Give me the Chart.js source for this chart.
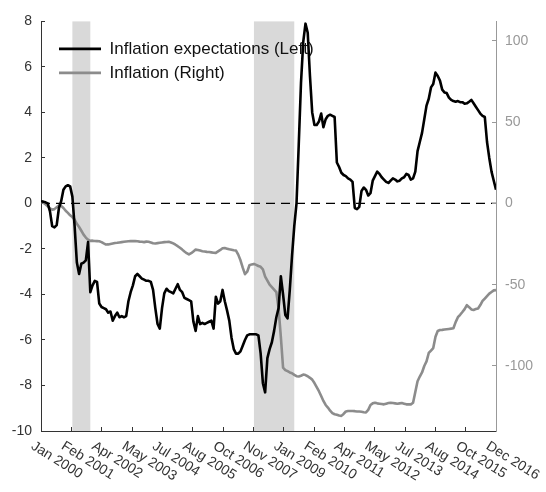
<!DOCTYPE html>
<html>
<head>
<meta charset="utf-8">
<script src="https://cdn.jsdelivr.net/npm/chart.js@4/dist/chart.umd.min.js"></script>
<style>
    html, body { margin: 0; padding: 0; background: #fff; }
    #chart { display: block; }
</style>
</head>
<body>
<canvas id="chart" width="546" height="492"></canvas>
<script>
// Monthly series, Jan 2000 .. Dec 2016 (index 0 .. 203)
const expectations = [
    0.1, 0.08, 0.05, 0.0, -0.35, -1.0, -1.05, -0.95, -0.2, 0.1,
    0.6, 0.75, 0.8, 0.75, 0.3, -1.0, -2.6, -3.1, -2.65, -2.6,
    -2.5, -1.7, -3.9, -3.6, -3.4, -3.45, -4.4, -4.55, -4.6, -4.65,
    -4.8, -4.75, -5.15, -4.95, -4.8, -5.0, -4.95, -5.0, -4.95, -4.3,
    -3.9, -3.6, -3.2, -3.1, -3.2, -3.3, -3.35, -3.4, -3.4, -3.45,
    -3.8, -4.6, -5.3, -5.5, -4.6, -3.95, -3.75, -3.85, -3.9, -3.95,
    -3.75, -3.55, -3.8, -3.9, -4.15, -4.2, -4.25, -4.3, -5.2, -5.6,
    -4.95, -5.3, -5.25, -5.3, -5.25, -5.2, -5.15, -5.5, -4.1, -4.4,
    -4.3, -3.8, -4.3, -4.7, -5.15, -5.9, -6.4, -6.6, -6.6, -6.5,
    -6.25, -6.0, -5.8, -5.75, -5.75, -5.75, -5.75, -5.8, -6.6, -7.9,
    -8.3, -6.8, -6.4, -6.1, -5.6, -5.0, -4.6, -3.2, -4.0, -4.9,
    -5.05, -3.8, -2.3, -1.0, 0.0, 2.6, 5.3, 7.1, 7.9, 7.5,
    5.6, 4.0, 3.45, 3.45, 3.6, 3.95, 3.35, 3.7, 3.85, 3.9,
    3.85, 3.8, 1.8, 1.6, 1.35, 1.25, 1.2, 1.1, 1.05, 0.95,
    -0.2, -0.25, -0.15, 0.55, 0.7, 0.6, 0.35, 0.45, 1.0, 1.2,
    1.4, 1.3, 1.15, 1.05, 0.95, 0.9, 1.0, 1.1, 1.05, 0.97,
    1.0, 1.1, 1.15, 1.3, 1.25, 1.05, 1.1, 1.4, 2.3, 2.7,
    3.1, 3.7, 4.3, 4.6, 5.1, 5.25, 5.75, 5.6, 5.4, 5.0,
    4.88, 4.85, 4.65, 4.55, 4.5, 4.47, 4.5, 4.45, 4.45, 4.38,
    4.4, 4.47, 4.55, 4.4, 4.25, 4.1, 3.95, 3.85, 3.8, 2.7,
    2.0, 1.4, 1.0, 0.6
];

const inflation = [
    1, 0.5, -0.5, -1.8, -3, -3.8, -3.5, -2.3, -1.2, -1.5,
    -2.8, -4.5, -5.8, -7.3, -8.4, -10, -12.5, -14.5, -16.8, -19.2,
    -21, -22.3, -23, -22.9, -23.1, -23.2, -23.3, -23.8, -24.6, -25.3,
    -25.2, -24.9, -24.6, -24.3, -24.2, -24, -23.8, -23.6, -23.4, -23.3,
    -23.2, -23.1, -23.2, -23.3, -23.5, -23.6, -23.8, -23.5, -23.6, -24,
    -24.5, -24.6, -24.4, -24.2, -24, -23.8, -23.7, -23.6, -24, -24.6,
    -25.4, -26.3, -27.3, -28.4, -29.6, -30.6, -31.4, -30.6, -29.5, -28.4,
    -28.6, -29, -29.4, -29.6, -29.8, -29.9, -30.1, -30.3, -30.4, -29.5,
    -28.6, -27.6, -27.4, -27.8, -28.2, -28.5, -28.8, -29, -31.5, -35,
    -39.5, -43.5, -42, -38, -37.5, -37.2, -37.8, -38.5, -39, -40.5,
    -45, -47.5, -50, -51.5, -53, -54.5, -64.6, -82, -101, -102.5,
    -103.2, -104, -104.5, -105.5, -106.3, -106.5, -106, -105.3, -105.6, -106.3,
    -107.3, -108.4, -110.5, -113, -115.5, -118.5, -121.5, -124, -125.6, -127.5,
    -129, -129.7, -130, -130.5, -130.7, -129.5, -128, -127.7, -127.7, -127.7,
    -127.8, -128, -128, -128.2, -128.5, -128.6, -127, -124, -123, -122.6,
    -123, -123.2, -123.4, -123.6, -123.2, -122.8, -122.6, -122.8, -123, -123.2,
    -123, -122.8, -123.2, -123.6, -123.6, -123.6, -122.6, -116, -109.4, -106.5,
    -104, -100, -97.2, -92, -90.5, -89, -82, -78.5, -77.9, -77.8,
    -77.6, -77.4, -77.2, -77, -76.8, -73, -70, -68.5, -66.8, -65,
    -62.6, -63.8, -65.2, -65.5, -65, -64.6, -62.5, -60, -58.5, -57,
    -55.5, -54.5, -53.5, -53.3
];

// x tick labels (evenly spaced across the months)
const tickLabels = [
    'Jan 2000', 'Feb 2001', 'Apr 2002', 'May 2003', 'Jul 2004', 'Aug 2005',
    'Oct 2006', 'Nov 2007', 'Jan 2009', 'Feb 2010', 'Apr 2011', 'May 2012',
    'Jul 2013', 'Aug 2014', 'Oct 2015', 'Dec 2016'
];
const leftTicks = [-10, -8, -6, -4, -2, 0, 2, 4, 6, 8];
const rightTicks = [-100, -50, 0, 50, 100];

// Recessions as [start month, end month]
const recessions = [[14, 22], [95, 113]];

const lastMonth = expectations.length - 1;
const FONT = '"Liberation Sans", Arial, sans-serif';
const AXIS_DARK = '#333333';
const AXIS_GRAY = '#999999';

const decorPlugin = {
    id: 'decor',

    // put the legend inside the plot, top left
    afterLayout: function(chart) {
        const area = chart.chartArea;
        if (chart.legend) {
            chart.legend.left = area.left + 11;
            chart.legend.top = area.top + 12;
        }
    },

    // shaded recessions and zero line, under everything else
    beforeDraw: function(chart) {
        const ctx = chart.ctx;
        const area = chart.chartArea;
        const x = chart.scales.x;
        const y = chart.scales.y;

        ctx.save();
        ctx.fillStyle = '#d9d9d9';
        recessions.forEach(function(r) {
            const x0 = x.getPixelForValue(r[0]);
            const x1 = x.getPixelForValue(r[1]);
            ctx.fillRect(x0, area.top, x1 - x0, area.bottom - area.top);
        });

        const y0 = y.getPixelForValue(0);
        ctx.strokeStyle = '#000';
        ctx.lineWidth = 1.2;
        ctx.setLineDash([9, 6]);
        ctx.beginPath();
        ctx.moveTo(area.left, y0);
        ctx.lineTo(area.right, y0);
        ctx.stroke();
        ctx.restore();
    },

    // rotated x labels reading down to the right
    afterDraw: function(chart) {
        const ctx = chart.ctx;
        const x = chart.scales.x;
        const angle = 32 * Math.PI / 180;

        ctx.save();
        ctx.font = '14px ' + FONT;
        ctx.fillStyle = AXIS_DARK;
        ctx.textAlign = 'left';
        ctx.textBaseline = 'top';
        x.ticks.forEach(function(t, i) {
            const px = x.getPixelForValue(t.value);
            ctx.save();
            ctx.translate(px - 5, chart.chartArea.bottom + 8);
            ctx.rotate(angle);
            ctx.fillText(tickLabels[i], 0, 0);
            ctx.restore();
        });
        ctx.restore();
    }
};

const chart = new Chart(document.getElementById('chart'), {
    type: 'line',
    data: {
        datasets: [
            {
                label: 'Inflation expectations (Left)',
                data: expectations.map((v, i) => ({ x: i, y: v })),
                yAxisID: 'y',
                borderColor: '#000000',
                backgroundColor: '#000000',
                borderWidth: 2.6,
                pointRadius: 0,
                pointStyle: 'line',
                tension: 0,
                borderJoinStyle: 'round'
            },
            {
                label: 'Inflation (Right)',
                data: inflation.map((v, i) => ({ x: i, y: v })),
                yAxisID: 'y1',
                borderColor: '#8c8c8c',
                backgroundColor: '#8c8c8c',
                borderWidth: 2.6,
                pointRadius: 0,
                pointStyle: 'line',
                tension: 0,
                borderJoinStyle: 'round'
            }
        ]
    },
    options: {
        responsive: false,
        animation: false,
        events: [],
        layout: {
            padding: { top: 19, right: 0, bottom: 0, left: 0 }
        },
        plugins: {
            tooltip: { enabled: false },
            legend: {
                position: 'chartArea',
                align: 'start',
                labels: {
                    usePointStyle: true,
                    pointStyleWidth: 42,
                    padding: 7,
                    color: '#111111',
                    font: { family: FONT, size: 17 }
                }
            }
        },
        scales: {
            x: {
                type: 'linear',
                position: 'bottom',
                min: 0,
                max: lastMonth,
                afterBuildTicks: function(scale) {
                    const n = tickLabels.length - 1;
                    scale.ticks = tickLabels.map((_, i) => ({ value: i * lastMonth / n }));
                },
                afterFit: function(scale) { scale.height = 61; },
                ticks: { display: false },
                grid: { drawOnChartArea: false, tickLength: -4, color: AXIS_DARK },
                border: { color: AXIS_DARK, width: 1 }
            },
            y: {
                type: 'linear',
                position: 'left',
                min: -10,
                max: 8,
                afterBuildTicks: function(scale) {
                    scale.ticks = leftTicks.map(v => ({ value: v }));
                },
                afterFit: function(scale) { scale.width = 41; },
                ticks: {
                    color: AXIS_DARK,
                    padding: 13,
                    font: { family: FONT, size: 14 }
                },
                grid: { drawOnChartArea: false, tickLength: -4, color: AXIS_DARK },
                border: { color: AXIS_DARK, width: 1 }
            },
            y1: {
                type: 'linear',
                position: 'right',
                min: -140,
                max: 112,
                afterBuildTicks: function(scale) {
                    scale.ticks = rightTicks.map(v => ({ value: v }));
                },
                afterFit: function(scale) { scale.width = 50; },
                ticks: {
                    color: AXIS_GRAY,
                    padding: 13,
                    font: { family: FONT, size: 14 }
                },
                grid: { drawOnChartArea: false, tickLength: -4, color: AXIS_GRAY },
                border: { color: AXIS_GRAY, width: 1 }
            }
        }
    },
    plugins: [decorPlugin]
});
</script>
</body>
</html>
